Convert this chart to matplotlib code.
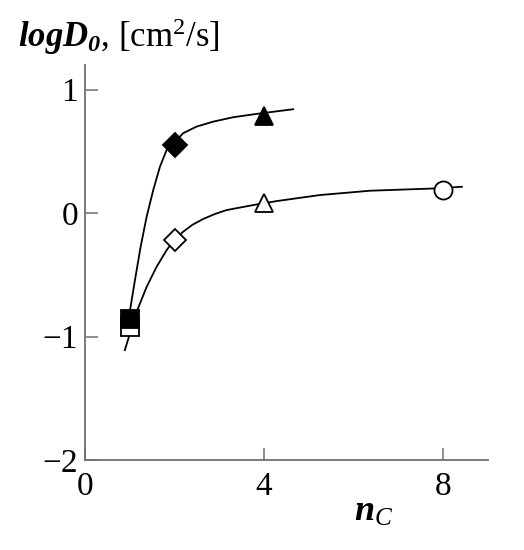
import matplotlib
matplotlib.use('Agg')
import matplotlib.pyplot as plt

plt.rcParams['font.family'] = 'Liberation Serif'
plt.rcParams['mathtext.fontset'] = 'custom'
plt.rcParams['mathtext.rm'] = 'Liberation Serif'
plt.rcParams['mathtext.it'] = 'Liberation Serif:italic'
plt.rcParams['mathtext.bf'] = 'Liberation Serif:bold'
plt.rcParams['mathtext.bfit'] = 'Liberation Serif:italic:bold'

# points
filled_x = [2, 4]
filled_y = [0.55, 0.785]
open_x = [2, 4, 8]
open_y = [-0.22, 0.08, 0.19]
markers_filled = ['D', '^']
markers_open = ['D', '^', 'o']
sq_filled = (1, -0.86)
sq_open = (1, -0.925)

# fitted curves
upper_x = [1.00, 1.116, 1.243, 1.377, 1.525, 1.674, 1.824, 1.99, 2.19, 2.49, 2.86, 3.31, 3.83, 4.65]
upper_y = [-0.80, -0.543, -0.273, -0.030, 0.187, 0.375, 0.511, 0.57, 0.646, 0.70, 0.74, 0.776, 0.803, 0.841]
lower_x = [0.89, 1.154, 1.377, 1.60, 1.824, 1.99, 2.19, 2.40, 2.64, 2.90, 3.16, 3.76, 4.3, 5.25, 6.37, 7.86, 8.42]
lower_y = [-1.11, -0.80, -0.598, -0.435, -0.30, -0.22, -0.152, -0.095, -0.048, -0.008, 0.024, 0.065, 0.098, 0.146, 0.181, 0.20, 0.213]

fig = plt.figure(figsize=(5.24, 5.5), dpi=100)
ax = fig.add_axes([0.1622, 0.1636, 0.931 - 0.1622, 0.882 - 0.1636])

ax.plot(upper_x, upper_y, color='black', lw=1.3, zorder=2)
ax.plot(lower_x, lower_y, color='black', lw=1.3, zorder=2)

ax.plot(*sq_open, marker='s', ms=12.5, mfc='white', mec='black', mew=1.3, zorder=3)
ax.plot(*sq_filled, marker='s', ms=12.5, mfc='black', mec='black', mew=1.3, zorder=4)
for x, y, m in zip(filled_x, filled_y, markers_filled):
    ax.plot(x, y, marker=m, ms=12 if m == 'D' else 13, mfc='black', mec='black', mew=1.3, zorder=4)
for x, y, m in zip(open_x, open_y, markers_open):
    ax.plot(x, y, marker=m, ms={'D': 11, '^': 13, 'o': 13}[m], mfc='white', mec='black', mew=1.3, zorder=4)

ax.set_xlim(0, 9.0)
ax.set_ylim(-2, 1.2)
ax.set_xticks([0, 4, 8])
ax.set_yticks([-2, -1, 0, 1])
ax.set_yticklabels(['\u22122', '\u22121', '0', '1'])
for s in ['top', 'right']:
    ax.spines[s].set_visible(False)
for s in ['left', 'bottom']:
    ax.spines[s].set_color('#707070')
    ax.spines[s].set_linewidth(1.3)
ax.tick_params(direction='in', length=9, width=1.1, color='#707070', labelsize=24)
ax.tick_params(axis='x', pad=8)
ax.tick_params(axis='y', pad=5)

fig.text(18 / 524, 1 - 47 / 550, r'$\mathbfit{logD_0}$, [cm$^2$/s]', fontsize=25, ha='left', va='baseline')
fig.text(374 / 524, 1 - 512 / 550, r'$\mathbfit{n}_{\mathit{C}}$', fontsize=26, ha='center', va='center')

fig.savefig('out.png', dpi=100)
